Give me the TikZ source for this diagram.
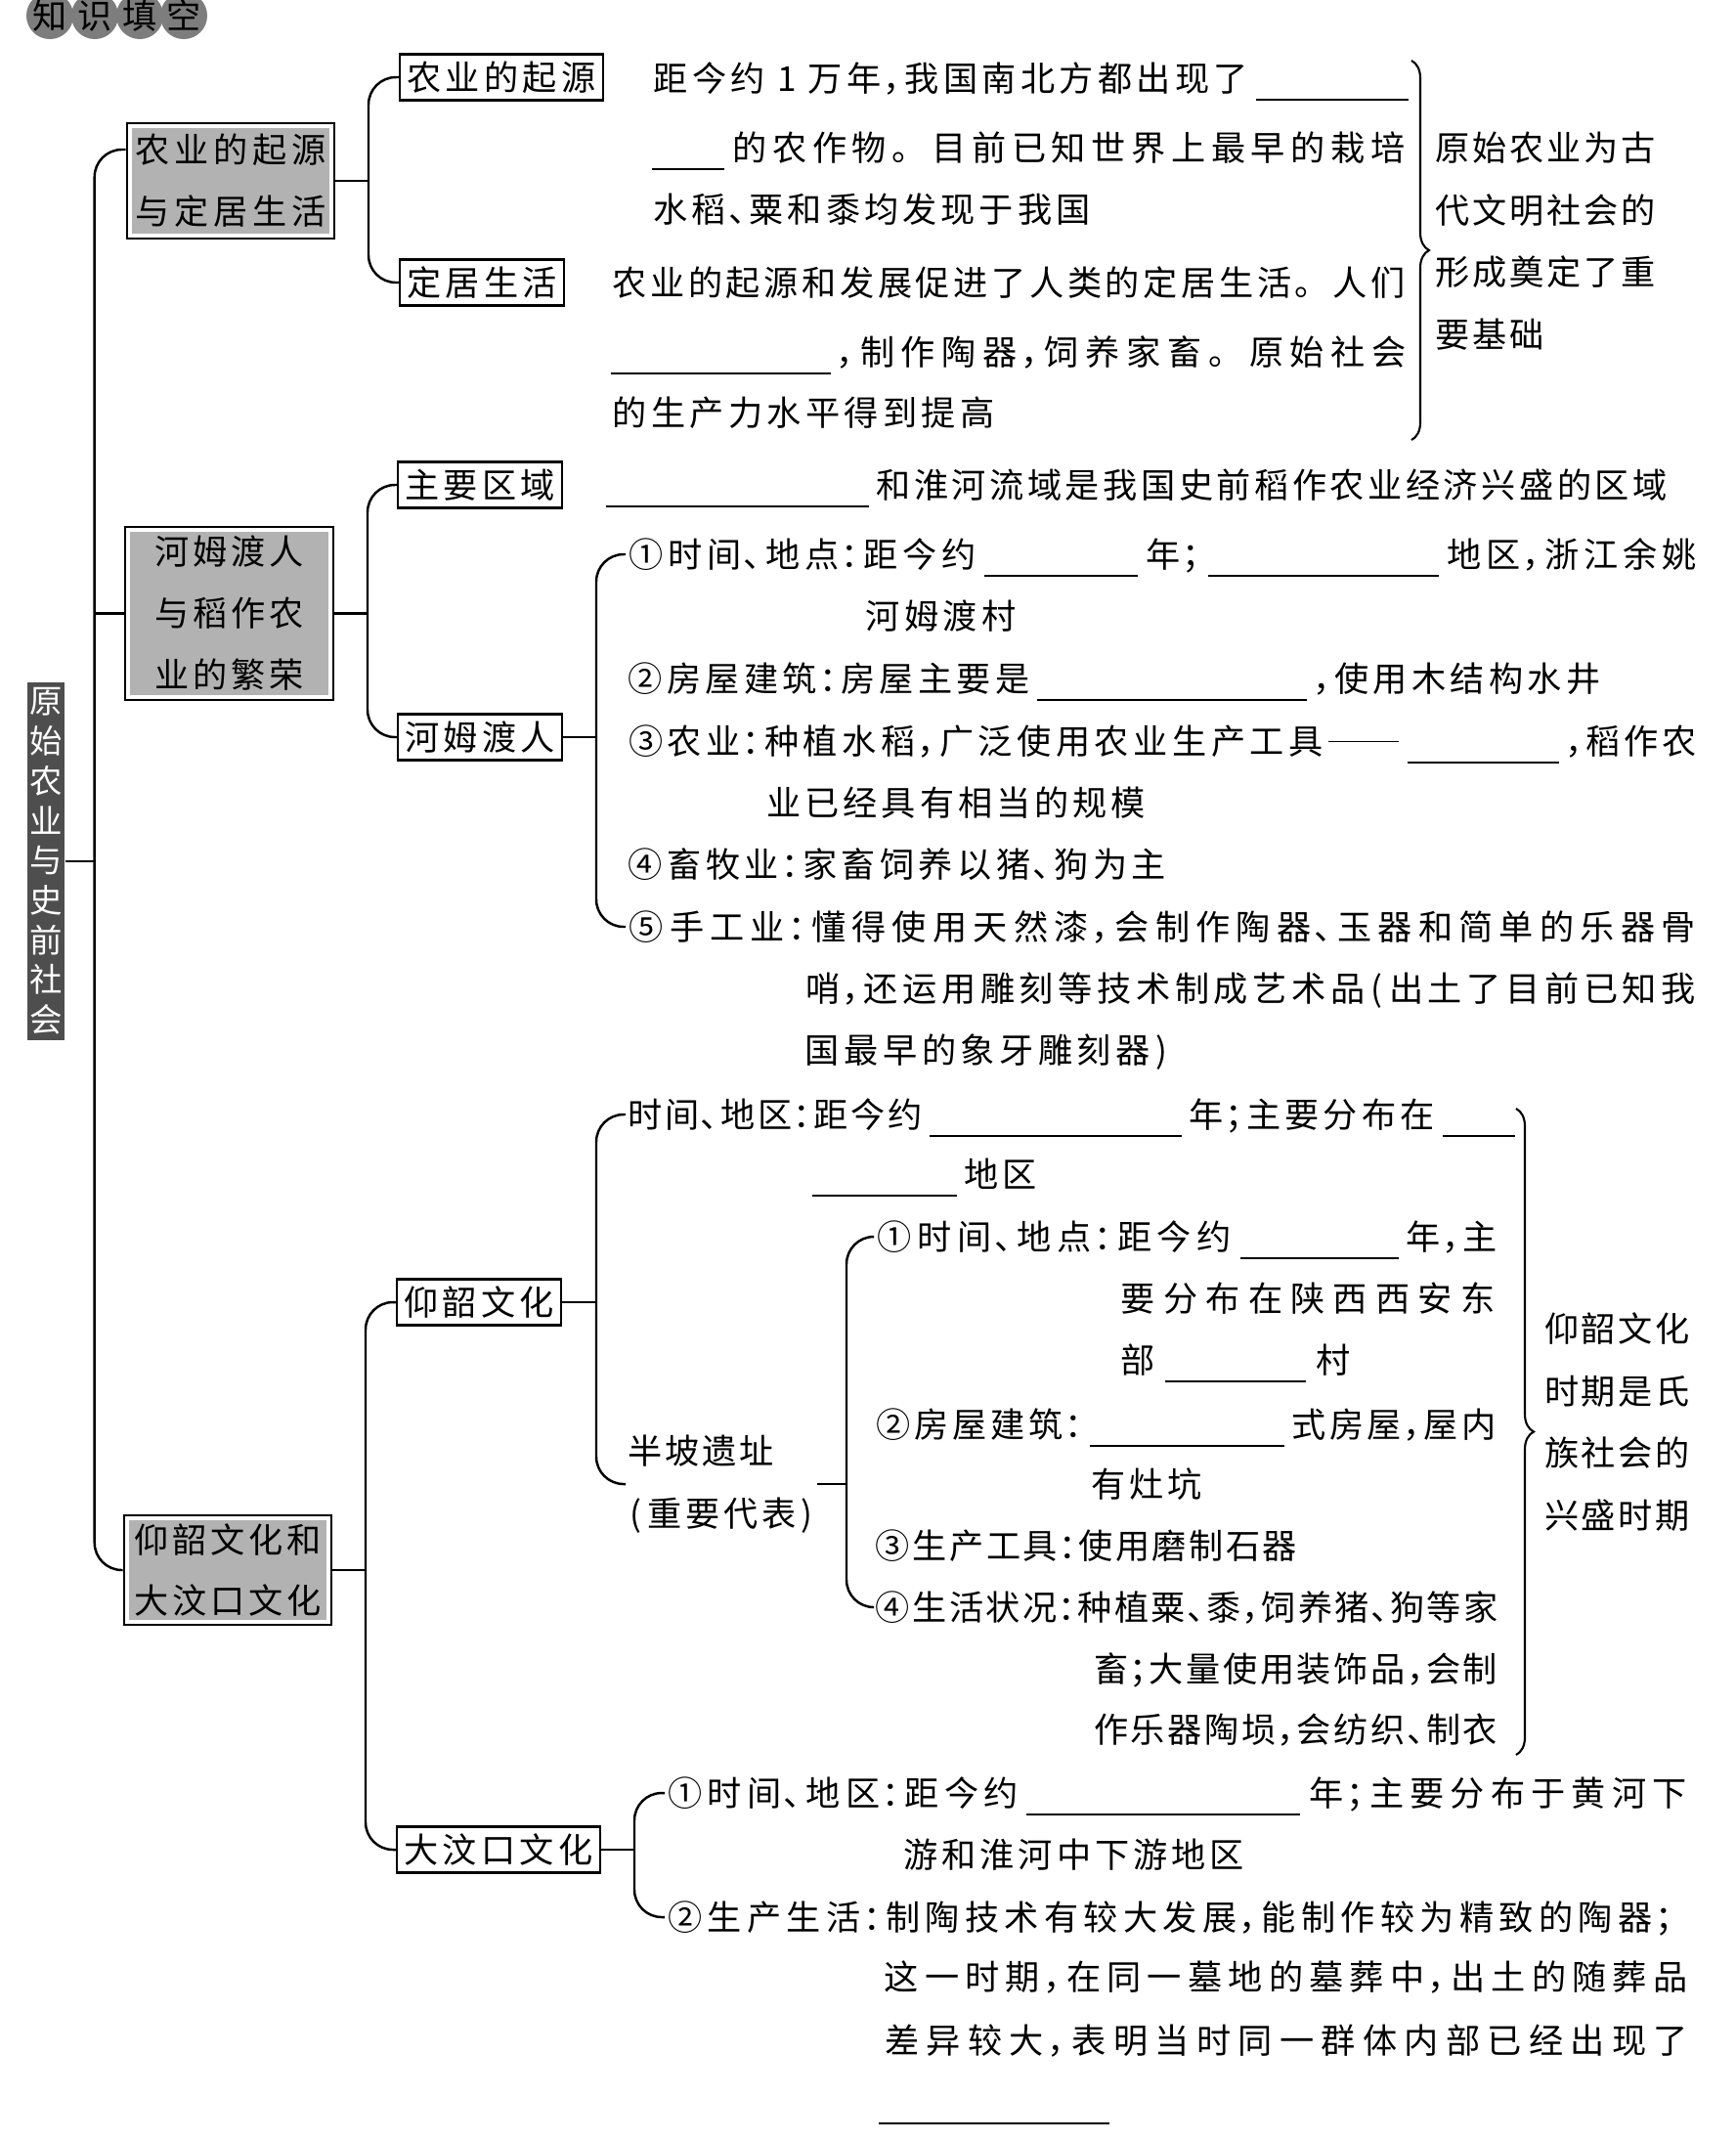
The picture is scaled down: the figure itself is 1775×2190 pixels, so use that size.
\documentclass[tikz,border=0pt]{standalone}
\usepackage{fontspec}
\setmainfont{Noto Sans CJK SC}
\usepackage{tikz}
\usetikzlibrary{calc,decorations.pathreplacing}
\definecolor{boxgray}{RGB}{178,178,178}
\definecolor{titlegray}{RGB}{78,78,78}
\definecolor{headgray}{RGB}{125,125,125}

\newdimen\pxu \pxu=0.01cm
% one glyph per cell, punctuation in half cells
\ExplSyntaxOn
\dim_new:N \l_cj_pitch_dim
\NewDocumentCommand \cj { O{39} m }
 {
  \dim_set:Nn \l_cj_pitch_dim { #1 \pxu }
  \tl_map_inline:nn {#2}
   {
    \str_case:nnF {##1}
     {
      {,}  { \makebox[.5\l_cj_pitch_dim][l]{，} }
      {;}  { \makebox[.5\l_cj_pitch_dim][l]{；} }
      {:}  { \makebox[.5\l_cj_pitch_dim][l]{：} }
      {、} { \makebox[.5\l_cj_pitch_dim][l]{、} }
      {(}  { \makebox[.5\l_cj_pitch_dim][c]{(} }
      {)}  { \makebox[.5\l_cj_pitch_dim][c]{)} }
     }
     { \makebox[\l_cj_pitch_dim][c]{##1} }
   }
 }
\ExplSyntaxOff
\newcommand\bl[1]{\kern6\pxu\rule[-2.6pt]{#1\pxu}{0.55pt}\kern6\pxu}
\newcommand\dashline[1]{\kern3\pxu\rule[3.4pt]{#1\pxu}{0.5pt}\kern3\pxu}

\begin{document}
\begin{tikzpicture}[x=0.01cm, y=-0.01cm,
    txt/.style={anchor=west, inner sep=0pt, text height=8.8pt, text depth=1.2pt, font=\fontsize{10pt}{12pt}\selectfont},
    blk/.style={anchor=west, inner sep=0pt, align=left, font=\fontsize{10pt}{18.1pt}\selectfont},
    topic/.style={draw, line width=0.7pt, fill=boxgray, align=center, inner sep=0pt, font=\fontsize{10pt}{17.9pt}\selectfont,
        path picture={\draw[white, line width=2.6pt] (path picture bounding box.south west) rectangle (path picture bounding box.north east);}},
    sub/.style={draw, line width=0.7pt, anchor=west, inner xsep=0.05cm, inner ysep=0pt, minimum height=0.47cm, text height=8.8pt, text depth=1.2pt, font=\fontsize{10pt}{12pt}\selectfont},
    title/.style={fill=titlegray, text=white, align=center, inner sep=0pt, minimum width=0.38cm, minimum height=3.66cm, font=\fontsize{9.5pt}{11.58pt}\selectfont},
    tree/.style={draw, line width=0.7pt, rounded corners=0.28cm},
    link/.style={draw, line width=0.7pt},
    brc/.style={draw, line width=0.6pt, decorate, decoration={brace, amplitude=0.18cm}}
]
\useasboundingbox (0,0) rectangle (1775,2190);

% Heading
\foreach \hx/\hc in {51/知,97/识,143/填,188/空}{
    \fill[headgray] (\hx,16) circle (0.24cm);
    \node[txt, anchor=center] (head\hx) at (\hx,16) {\hc};
}

% Title and topics
\node[title] (root) at (47,881) {原\\始\\农\\业\\与\\史\\前\\社\\会};
\node[topic, minimum width=2.12cm, minimum height=1.18cm] (g1) at (236,185) {\cj[40]{农业的起源}\\\cj[40]{与定居生活}};
\node[topic, minimum width=2.13cm, minimum height=1.77cm] (g2) at (234.5,627.5) {\cj[39]{河姆渡人}\\\cj[39]{与稻作农}\\\cj[39]{业的繁荣}};
\node[topic, minimum width=2.12cm, minimum height=1.12cm] (g3) at (233,1606) {\cj[39]{仰韶文化和}\\\cj[39]{大汶口文化}};

% Sub topics
\node[sub] (s1) at (408,79) {\cj[39.5]{农业的起源}};
\node[sub] (s2) at (408,289) {\cj[39.5]{定居生活}};
\node[sub] (s3) at (406,496) {\cj[39.5]{主要区域}};
\node[sub] (s4) at (406,754) {\cj[39.5]{河姆渡人}};
\node[sub] (s5) at (405,1332) {\cj[39.5]{仰韶文化}};
\node[sub] (s6) at (405,1892) {\cj[39.5]{大汶口文化}};

% 农业的起源
\node[txt] (a1) at (666,80) {\cj[39.5]{距今约1万年,我国南北方都出现了}\bl{156}};
\node[txt] (a2) at (660,151) {\bl{74}\cj[40.8]{的农作物。目前已知世界上最早的栽培}};
\node[txt] (a3) at (666,214) {\cj[39.2]{水稻、粟和黍均发现于我国}};

% 定居生活
\node[txt] (b1) at (624,289) {\cj[38.8]{农业的起源和发展促进了人类的定居生活。人们}};
\node[txt] (b2) at (618,360) {\bl{225}\cj[41.9]{,制作陶器,饲养家畜。原始社会}};
\node[txt] (b3) at (624,422) {\cj[39.5]{的生产力水平得到提高}};

% 主要区域
\node[txt] (c1) at (613,496) {\bl{269}\cj[38.7]{和淮河流域是我国史前稻作农业经济兴盛的区域}};

% 河姆渡人
\node[txt] (h1) at (640,567) {\cj[40]{①时间、地点:距今约}\bl{157}\cj[40]{年;}\bl{236}\cj[40]{地区,浙江余姚}};
\node[txt] (h1b) at (883,630) {\cj[39.5]{河姆渡村}};
\node[txt] (h2) at (640,694) {\cj[39.5]{②房屋建筑:房屋主要是}\bl{276}\cj[39.5]{,使用木结构水井}};
\node[txt] (h3) at (640,758) {\cj[39.75]{③农业:种植水稻,广泛使用农业生产工具}\dashline{72}\bl{155}\cj[39]{,稻作农}};
\node[txt] (h3b) at (782,821) {\cj[39.1]{业已经具有相当的规模}};
\node[txt] (h4) at (640,884) {\cj[39.6]{④畜牧业:家畜饲养以猪、狗为主}};
\node[txt] (h5) at (640,948) {\cj[41.4]{⑤手工业:懂得使用天然漆,会制作陶器、玉器和简单的乐器骨}};
\node[txt] (h5b) at (821,1011) {\cj[39.8]{哨,还运用雕刻等技术制成艺术品(出土了目前已知我}};
\node[txt] (h5c) at (821,1074) {\cj[39.7]{国最早的象牙雕刻器)}};

% 仰韶文化
\node[txt] (y1) at (640,1140) {\cj[38]{时间、地区:距今约}\bl{258}\cj[39.2]{年;主要分布在}\bl{74}};
\node[txt] (y1b) at (824,1201) {\bl{148}\cj[39]{地区}};
\node[blk] (bp) at (640,1518) {\cj[38]{半坡遗址}\\\cj[39]{(重要代表)}};
\node[txt] (y2) at (894,1265) {\cj[40.9]{①时间、地点:距今约}\bl{162}\cj[38.8]{年,主}};
\node[txt] (y2b) at (1142,1328) {\cj[43.4]{要分布在陕西西安东}};
\node[txt] (y2c) at (1142,1391) {\cj[43.4]{部}\bl{144}\cj[43.4]{村}};
\node[txt] (y3) at (894,1457) {\cj[38.9]{②房屋建筑:}\bl{199}\cj[38.7]{式房屋,屋内}};
\node[txt] (y3b) at (1114,1518) {\cj[39]{有灶坑}};
\node[txt] (y4) at (894,1581) {\cj[37.7]{③生产工具:使用磨制石器}};
\node[txt] (y5) at (894,1644) {\cj[37.6]{④生活状况:种植粟、黍,饲养猪、狗等家}};
\node[txt] (y5b) at (1117,1707) {\cj[37.8]{畜;大量使用装饰品,会制}};
\node[txt] (y5c) at (1117,1769) {\cj[37.8]{作乐器陶埙,会纺织、制衣}};

% 大汶口文化
\node[txt] (d1) at (680,1834) {\cj[40.4]{①时间、地区:距今约}\bl{280}\cj[41.3]{年;主要分布于黄河下}};
\node[txt] (d1b) at (922,1897) {\cj[39.1]{游和淮河中下游地区}};
\node[txt] (d2) at (680,1961) {\cj[40.5]{②生产生活:制陶技术有较大发展,能制作较为精致的陶器;}};
\node[txt] (d2b) at (901,2022) {\cj[41.4]{这一时期,在同一墓地的墓葬中,出土的随葬品}};
\node[txt] (d2c) at (901,2087) {\cj[42.5]{差异较大,表明当时同一群体内部已经出现了}};
\node[txt] (d2d) at (892,2150) {\bl{236}};

% Notes
\node[blk] (note1) at (1466,246.5) {\cj[38]{原始农业为古}\\\cj[38]{代文明社会的}\\\cj[38]{形成奠定了重}\\\cj[38]{要基础}};
\node[blk] (note2) at (1578,1454.5) {\cj[37.8]{仰韶文化}\\\cj[37.8]{时期是氏}\\\cj[37.8]{族社会的}\\\cj[37.8]{兴盛时期}};
\draw[brc] (1444,62) -- (1444,450);
\draw[brc] (1551,1134) -- (1551,1795);

% Trunk
\coordinate (trunk) at ([xshift=-0.32cm]g1.west);
\draw[tree] ([yshift=0.32cm]g1.west) -- ++(-32,0) |- (g3.west);
\draw[link] (g2.west) -- (g2.west -| trunk);
\draw[link] (root.east) -- (root.east -| trunk);

% Branches
\draw[link] (g1.east) -- ([xshift=-0.31cm]g1.east -| s1.west);
\draw[tree] (s1.west) -- ++(-31,0) |- (s2.west);
\draw[link] (g2.east) -- ([xshift=-0.3cm]g2.east -| s3.west);
\draw[tree] (s3.west) -- ++(-30,0) |- (s4.west);
\draw[link] (g3.east) -- ([xshift=-0.31cm]g3.east -| s5.west);
\draw[tree] (s5.west) -- ++(-31,0) |- (s6.west);

% Details
\draw[link] (s4.east) -- ([xshift=-0.3cm]s4.east -| h1.west);
\draw[tree] (h1.west) -- ++(-30,0) |- (h5.west);
\draw[link] (s5.east) -- ([xshift=-0.3cm]s5.east -| y1.west);
\draw[tree] (y1.west) -- ++(-30,0) |- (bp.west);
\draw[link] (bp.east) -- ([xshift=-0.28cm]bp.east -| y2.west);
\draw[tree] (y2.west) -- ++(-28,0) |- (y5.west);
\draw[link] (s6.east) -- ([xshift=-0.31cm]s6.east -| d1.west);
\draw[tree] (d1.west) -- ++(-31,0) |- (d2.west);

\end{tikzpicture}
\end{document}
